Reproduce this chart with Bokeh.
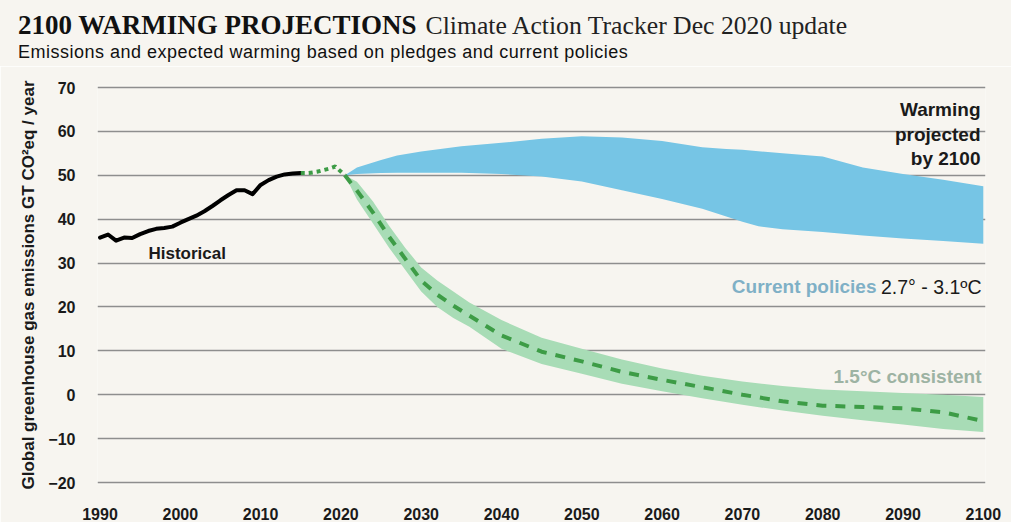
from bokeh.plotting import figure
from bokeh.models import Range1d, FixedTicker, Label, Div
from bokeh.layouts import column
from bokeh.embed import file_html
from bokeh.resources import INLINE

# ---------------- data ----------------
hist_years = [1990, 1991, 1992, 1993, 1994, 1995, 1996, 1997, 1998, 1999, 2000, 2001, 2002,
              2003, 2004, 2005, 2006, 2007, 2008, 2009, 2010, 2011, 2012, 2013, 2014, 2015]
hist_vals = [35.8, 36.5, 35.1, 35.8, 35.7, 36.6, 37.3, 37.8, 38.0, 38.3, 39.2, 40.0, 40.8,
             41.8, 43.0, 44.3, 45.5, 46.6, 46.6, 45.7, 47.8, 48.9, 49.7, 50.2, 50.4, 50.5]

recent_years = [2015, 2016, 2017, 2018.5, 2019.3, 2020.5]
recent_vals = [50.5, 50.5, 50.8, 51.5, 52.0, 50.0]

cp_years = [2020.5, 2022, 2025, 2027, 2030, 2035, 2040, 2045, 2050, 2055, 2060, 2065, 2068,
            2070, 2072, 2075, 2080, 2085, 2090, 2095, 2100]
cp_upper = [50.0, 51.8, 53.5, 54.5, 55.4, 56.6, 57.4, 58.3, 58.9, 58.6, 57.8, 56.4, 56.0,
            55.8, 55.5, 55.0, 54.3, 51.8, 50.3, 49.0, 47.5]
cp_lower = [50.0, 50.3, 50.5, 50.6, 50.6, 50.6, 50.3, 49.7, 48.6, 46.6, 44.6, 42.4, 40.6,
            39.4, 38.4, 37.7, 37.1, 36.3, 35.6, 35.0, 34.4]

gp_years = [2020.5, 2022, 2024, 2026, 2028, 2030, 2032, 2034, 2036, 2040, 2045, 2050, 2055,
            2060, 2065, 2070, 2075, 2080, 2085, 2090, 2095, 2100]
gp_mid = [50.0, 46.5, 41.5, 36.0, 31.0, 26.0, 22.8, 20.3, 18.0, 13.5, 9.8, 7.6, 5.2,
          3.4, 1.7, 0.0, -1.5, -2.5, -2.8, -3.1, -4.0, -6.0]
gp_upper = [50.0, 48.5, 44.0, 38.5, 33.5, 29.0, 26.0, 23.5, 21.0, 17.0, 13.0, 10.5, 8.0,
            6.0, 4.3, 3.0, 2.0, 1.2, 0.8, 0.4, 0.0, -0.5]
gp_lower = [50.0, 44.5, 39.0, 33.5, 28.5, 23.5, 20.0, 17.5, 15.5, 10.5, 7.0, 4.8, 2.5,
            0.8, -0.8, -2.3, -3.6, -4.8, -5.8, -6.8, -7.8, -8.5]

x_ticks = [1990, 2000, 2010, 2020, 2030, 2040, 2050, 2060, 2070, 2080, 2090, 2100]
y_ticks = [-20, -10, 0, 10, 20, 30, 40, 50, 60, 70]

title_main = "2100 WARMING PROJECTIONS"
title_rest = "Climate Action Tracker Dec 2020 update"
subtitle = "Emissions and expected warming based on pledges and current policies"
y_label = "Global greenhouse gas emissions GT CO\u00b2eq / year"

# ---------------- layout helpers (page pixels -> data) ----------------
PAGE_W, PAGE_H = 1011, 522
HEAD_H = 66
W, H = PAGE_W, PAGE_H - HEAD_H
PX_Y = 395.0 / 90.0          # pixels per unit on y
PX_X = 8.03                  # pixels per year
def ydat(py):
    return 70 - (py - 87) / PX_Y
def xdat(px):
    return 1990 + (px - 99.5) / PX_X

FR_L, FR_R, FR_T, FR_B = 97, 985, 85, 484   # frame edges in page pixels
X0, X1 = xdat(FR_L), xdat(FR_R)
Y0, Y1 = ydat(FR_B), ydat(FR_T)

BG = "#f7f5f0"
BLUE = "#76c5e5"
GREEN_BAND = "#a8dcb6"
GREEN_LINE = "#3d9c46"
GRID = "#8e8e8e"

head_html = (
    '<div style="position:relative;width:%dpx;height:%dpx;background:%s;overflow:hidden;">'
    '<div style="position:absolute;left:18px;top:12px;white-space:nowrap;line-height:27px;color:#111;">'
    '<span style="font-family:\'Liberation Serif\';font-weight:bold;font-size:27px;">%s</span>'
    '<span style="font-family:\'Liberation Serif\';font-weight:normal;font-size:25.7px;color:#222;'
    'margin-left:9px;">%s</span>'
    '</div>'
    '<div style="position:absolute;left:18px;top:43px;white-space:nowrap;line-height:18px;'
    'font-family:\'Liberation Sans\';font-size:18px;letter-spacing:0.5px;color:#111;">%s</div>'
    '</div>'
) % (W, HEAD_H, BG, title_main, title_rest, subtitle)
head = Div(text=head_html, width=W, height=HEAD_H, margin=0,
           styles={"background-color": BG})

p = figure(width=W, height=H, x_range=Range1d(X0, X1), y_range=Range1d(Y0, Y1),
           output_backend="svg", toolbar_location=None, margin=0,
           min_border_left=FR_L, min_border_right=PAGE_W - FR_R,
           min_border_top=FR_T - HEAD_H, min_border_bottom=PAGE_H - FR_B)
p.background_fill_color = BG
p.border_fill_color = BG
p.outline_line_color = None

p.xgrid.visible = False
p.ygrid.grid_line_color = GRID
p.ygrid.grid_line_width = 1.5
p.ygrid.ticker = FixedTicker(ticks=y_ticks)

for ax in (p.xaxis, p.yaxis):
    ax.axis_line_color = None
    ax.major_tick_line_color = None
    ax.minor_tick_line_color = None
    ax.major_label_text_font = "Liberation Sans"
    ax.major_label_text_font_style = "bold"
    ax.major_label_text_color = "#1a1a1a"
    ax.major_label_text_font_size = "16px"

p.xaxis.ticker = FixedTicker(ticks=x_ticks)
p.yaxis.ticker = FixedTicker(ticks=y_ticks)
p.xaxis.major_label_standoff = 17
p.yaxis.major_label_standoff = 16

p.yaxis.axis_label = y_label
p.yaxis.axis_label_text_font = "Liberation Sans"
p.yaxis.axis_label_text_font_style = "bold"
p.yaxis.axis_label_text_font_size = "17px"
p.yaxis.axis_label_text_color = "#1a1a1a"
p.yaxis.axis_label_standoff = 7

# ---------------- glyphs ----------------
p.varea(x=cp_years, y1=cp_lower, y2=cp_upper, fill_color=BLUE)
p.varea(x=gp_years, y1=gp_lower, y2=gp_upper, fill_color=GREEN_BAND)
p.line(hist_years, hist_vals, line_color="#000000", line_width=4, line_join="round", line_cap="round")
p.line(recent_years, recent_vals, line_color=GREEN_LINE, line_width=4, line_dash="4 4")
p.line(gp_years, gp_mid, line_color=GREEN_LINE, line_width=4, line_dash="10 9")

# ---------------- texts ----------------
def lab(text, px, py, size, style="bold", color="#1a1a1a", font="Liberation Sans", align="left"):
    p.add_layout(Label(x=xdat(px), y=ydat(py), text=text, text_font=font, text_font_size=size,
                       text_font_style=style, text_color=color, text_align=align,
                       text_baseline="alphabetic"))

lab("Historical", 148, 252.5, "17px")
lab("Warming", 980, 109, "19px", align="right")
lab("projected", 980, 133.5, "19px", align="right")
lab("by 2100", 980, 158, "19px", align="right")
lab("2.7\u00b0 - 3.1\u00baC", 981, 286, "19.5px", style="normal", align="right")
lab("Current policies", 876, 286, "19px", color="#7fb0c6", align="right")
lab("1.5\u00b0C consistent", 981, 376, "19px", color="#9db3a3", align="right")

layout = column(head, p, spacing=0, margin=0)
open("out.html", "w").write(file_html(layout, INLINE))
